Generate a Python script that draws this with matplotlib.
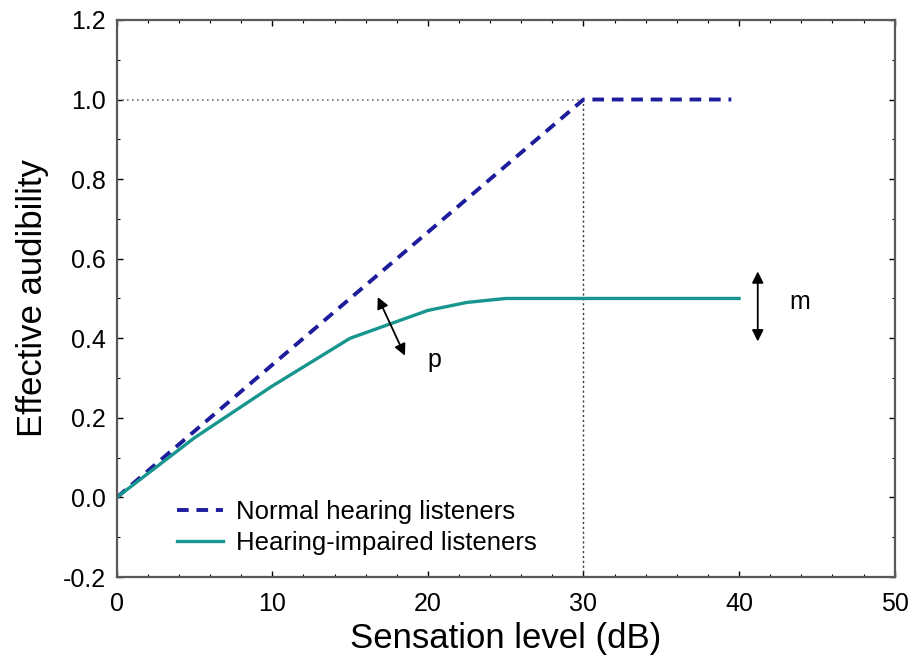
import matplotlib
matplotlib.use('Agg')
import matplotlib.pyplot as plt
from matplotlib.ticker import MultipleLocator, FormatStrFormatter

plt.rcParams['font.family'] = ['Liberation Sans', 'DejaVu Sans']

# data
normal_x = [0, 30, 39.5]
normal_y = [0.0, 1.0, 1.0]
impaired_x = [0, 5, 10, 15, 20, 22.5, 25, 40]
impaired_y = [0.0, 0.15, 0.28, 0.40, 0.47, 0.49, 0.50, 0.50]

fig = plt.figure(figsize=(9.12, 6.64), dpi=100)
ax = fig.add_axes([0.128, 0.131, 0.853, 0.839])

# reference dotted lines at the saturation point
ax.plot([0, 30], [1.0, 1.0], color='0.45', linestyle=(0, (1, 2)), linewidth=1.2)
ax.plot([30, 30], [-0.2, 1.0], color='0.2', linestyle=(0, (1.5, 2)), linewidth=1.0)

ax.plot(normal_x, normal_y, color='#1c1c9c', linestyle=(0, (3, 2)), linewidth=2.8,
        label='Normal hearing listeners')
ax.plot(impaired_x, impaired_y, color='#17958f', linewidth=2.4,
        label='Hearing-impaired listeners')

# double arrows for p and m
arrow = dict(arrowstyle='<|-|>', color='black', lw=1.3, mutation_scale=17)
ax.annotate('', xy=(16.7, 0.51), xytext=(18.6, 0.35), arrowprops=arrow)
ax.annotate('', xy=(41.2, 0.575), xytext=(41.2, 0.385), arrowprops=arrow)
ax.text(20.0, 0.345, 'p', fontsize=18, ha='left', va='center')
ax.text(43.2, 0.49, 'm', fontsize=18, ha='left', va='center')

ax.set_xlim(0, 50)
ax.set_ylim(-0.2, 1.2)
ax.xaxis.set_major_locator(MultipleLocator(10))
ax.xaxis.set_minor_locator(MultipleLocator(2))
ax.yaxis.set_major_locator(MultipleLocator(0.2))
ax.yaxis.set_minor_locator(MultipleLocator(0.1))
ax.yaxis.set_major_formatter(FormatStrFormatter('%.1f'))
ax.tick_params(which='both', direction='in', top=True, right=True, labelsize=18)
ax.tick_params(axis='x', pad=11)
ax.tick_params(axis='y', pad=8)
ax.tick_params(which='major', length=4, width=1)
ax.tick_params(which='minor', length=2.5, width=0.8)
for s in ax.spines.values():
    s.set_linewidth(1.6)
    s.set_color('0.35')

ax.set_xlabel('Sensation level (dB)', fontsize=25, labelpad=4)
ax.set_ylabel('Effective audibility', fontsize=25, labelpad=10)

ax.legend(loc='center left', bbox_to_anchor=(0.077, 0.089), frameon=False, fontsize=18.5,
          handlelength=1.8, handletextpad=0.5, labelspacing=0.25,
          borderpad=0, borderaxespad=0)

fig.savefig('out.png', dpi=100)
